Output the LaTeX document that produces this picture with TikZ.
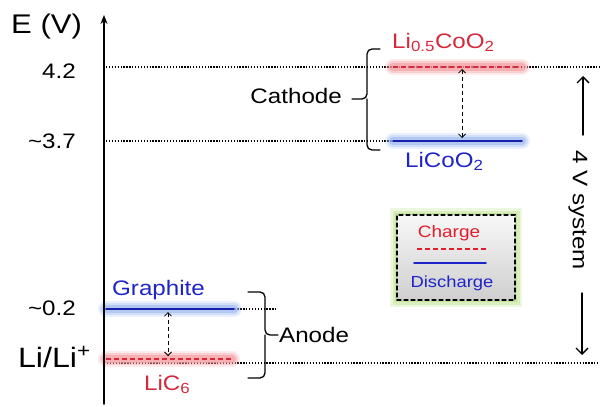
\documentclass[tikz,border=0pt]{standalone}
\usepackage{fontspec}
\setmainfont[FakeStretch=1.15]{Liberation Sans}
\usetikzlibrary{arrows.meta}
\definecolor{chgred}{HTML}{D42A3C}
\definecolor{dchblue}{HTML}{1E24C8}
\definecolor{redglow}{HTML}{F49A9E}
\definecolor{blueglow}{HTML}{9DBAF0}
\definecolor{greenglow}{HTML}{C4E49A}

\begin{document}
\begin{tikzpicture}[x=1pt,y=-1pt,>={Straight Barb[length=3.5pt,width=7pt]},
  font=\fontsize{21}{25}\selectfont,line cap=round,
  level/.style={line width=1.1pt,line cap=butt,dash pattern=on 1.3pt off 1.6pt},
  chg/.style={chgred,line width=1.6pt,line cap=butt,dash pattern=on 5pt off 3pt},
  dch/.style={dchblue!85!black,line width=1.8pt},
  rglow/.style={preaction={draw=redglow,solid,opacity=.2,line width=16pt},
                preaction={draw=redglow,solid,opacity=.35,line width=12pt},
                preaction={draw=redglow,solid,opacity=.6,line width=8pt}},
  bglow/.style={preaction={draw=blueglow,solid,opacity=.2,line width=16pt},
                preaction={draw=blueglow,solid,opacity=.35,line width=12pt},
                preaction={draw=blueglow,solid,opacity=.6,line width=8pt}},
  hop/.style={<->,line width=.8pt,line cap=butt,dash pattern=on 4pt off 3pt},
  brace/.style={line width=1.3pt,rounded corners=5pt},
  tick/.style={anchor=base east,inner sep=0pt},
  lbl/.style={anchor=base west,inner sep=0pt},
  sysarrow/.style={->,>={Straight Barb[length=6pt,width=12pt]},line width=1.4pt},
  legendbox/.style={draw,line width=1.1pt,dash pattern=on 4pt off 3pt,
    top color=gray!6,bottom color=gray!38,minimum width=118pt,minimum height=85pt,
    preaction={draw=greenglow,solid,opacity=.3,line width=14pt},
    preaction={draw=greenglow,solid,opacity=.5,line width=9pt},
    preaction={draw=greenglow,solid,line width=4pt}}]
\useasboundingbox (0,0) rectangle (600,407);

% energy axis
\coordinate (axbot) at (104,404);
\coordinate (axtop) at (104,15);
\node[lbl,font=\fontsize{27}{30}\selectfont] (ev) at (11,33) {E (V)};

% reference levels
\draw[level] (106,67) -- (600,67);
\draw[level] (106,141) -- (393,141);
\draw[level] (104,309) -- (277,309);
\draw[level] (104,363) -- (600,363);
\node[tick] (v42) at (76,78) {4.2};
\node[tick] (v37) at (76,148) {\textasciitilde3.7};
\node[tick] (v02) at (76,315) {\textasciitilde0.2};
\node[tick,font=\fontsize{28}{30}\selectfont] (vli) at (91,367) {Li/Li\textsuperscript{+}};

% cathode levels
\coordinate (ca1) at (393,67);  \coordinate (ca2) at (522,67);
\coordinate (cb1) at (393,141); \coordinate (cb2) at (522,141);
\draw[chg,rglow] (ca1) -- (ca2);
\draw[dch,bglow] (cb1) -- (cb2);
\coordinate (hca) at (462,69); \coordinate (hcb) at (462,138);
\draw[hop] (hca) -- (hcb);
\node[lbl,text=chgred] (lihalf) at (392,48) {Li\textsubscript{0.5}CoO\textsubscript{2}};
\node[lbl,text=dchblue] (licoo) at (405,167) {LiCoO\textsubscript{2}};

% anode levels
\coordinate (aa1) at (106,309); \coordinate (aa2) at (234,309);
\coordinate (ab1) at (106,359); \coordinate (ab2) at (232,359);
\draw[dch,bglow] (aa1) -- (aa2);
\draw[chg,rglow] (ab1) -- (ab2);
\coordinate (haa) at (168,312); \coordinate (hab) at (168,356);
\draw[hop] (haa) -- (hab);
\node[lbl,text=dchblue] (graph) at (112,295) {Graphite};
\node[lbl,text=chgred] (lic6) at (144,390) {LiC\textsubscript{6}};

\draw[line width=1.5pt,-{Stealth[length=9pt,width=7pt]}] (axbot) -- (axtop);

% braces
\coordinate (cattip) at (352,99);
\draw[brace] (380,49) -- (367,49) -- (367,99) -- (cattip);
\draw[brace] (380,150) -- (367,150) -- (367,99);
\node[anchor=base east,inner sep=0pt] (cathode) at (342,103) {Cathode};
\coordinate (anotip) at (278,335);
\draw[brace] (248,292) -- (265,292) -- (265,335) -- (anotip);
\draw[brace] (248,378) -- (265,378) -- (265,335);
\node[lbl] (anode) at (279,342) {Anode};

% cell voltage
\node[rotate=-90,inner sep=0pt] (sys) at (578,210) {4 V system};
\coordinate (up1) at (583,135); \coordinate (up2) at (583,76);
\coordinate (dn1) at (582,293); \coordinate (dn2) at (582,355);
\draw[sysarrow] (up1) -- (up2);
\draw[sysarrow] (dn1) -- (dn2);

% legend
\node[legendbox] (legend) at (456,257.5) {};
\node[anchor=base,inner sep=0pt,text=chgred!70!red,font=\fontsize{16.5}{18}\selectfont] (charge) at (449,237) {Charge};
\node[anchor=base,inner sep=0pt,text=dchblue,font=\fontsize{16}{18}\selectfont] (dischg) at (452,287) {Discharge};
\draw[chg,chgred!70!red] (417,249) -- (488,249);
\draw[dch,dchblue] (414,263) -- (486,263);
\end{tikzpicture}
\end{document}
